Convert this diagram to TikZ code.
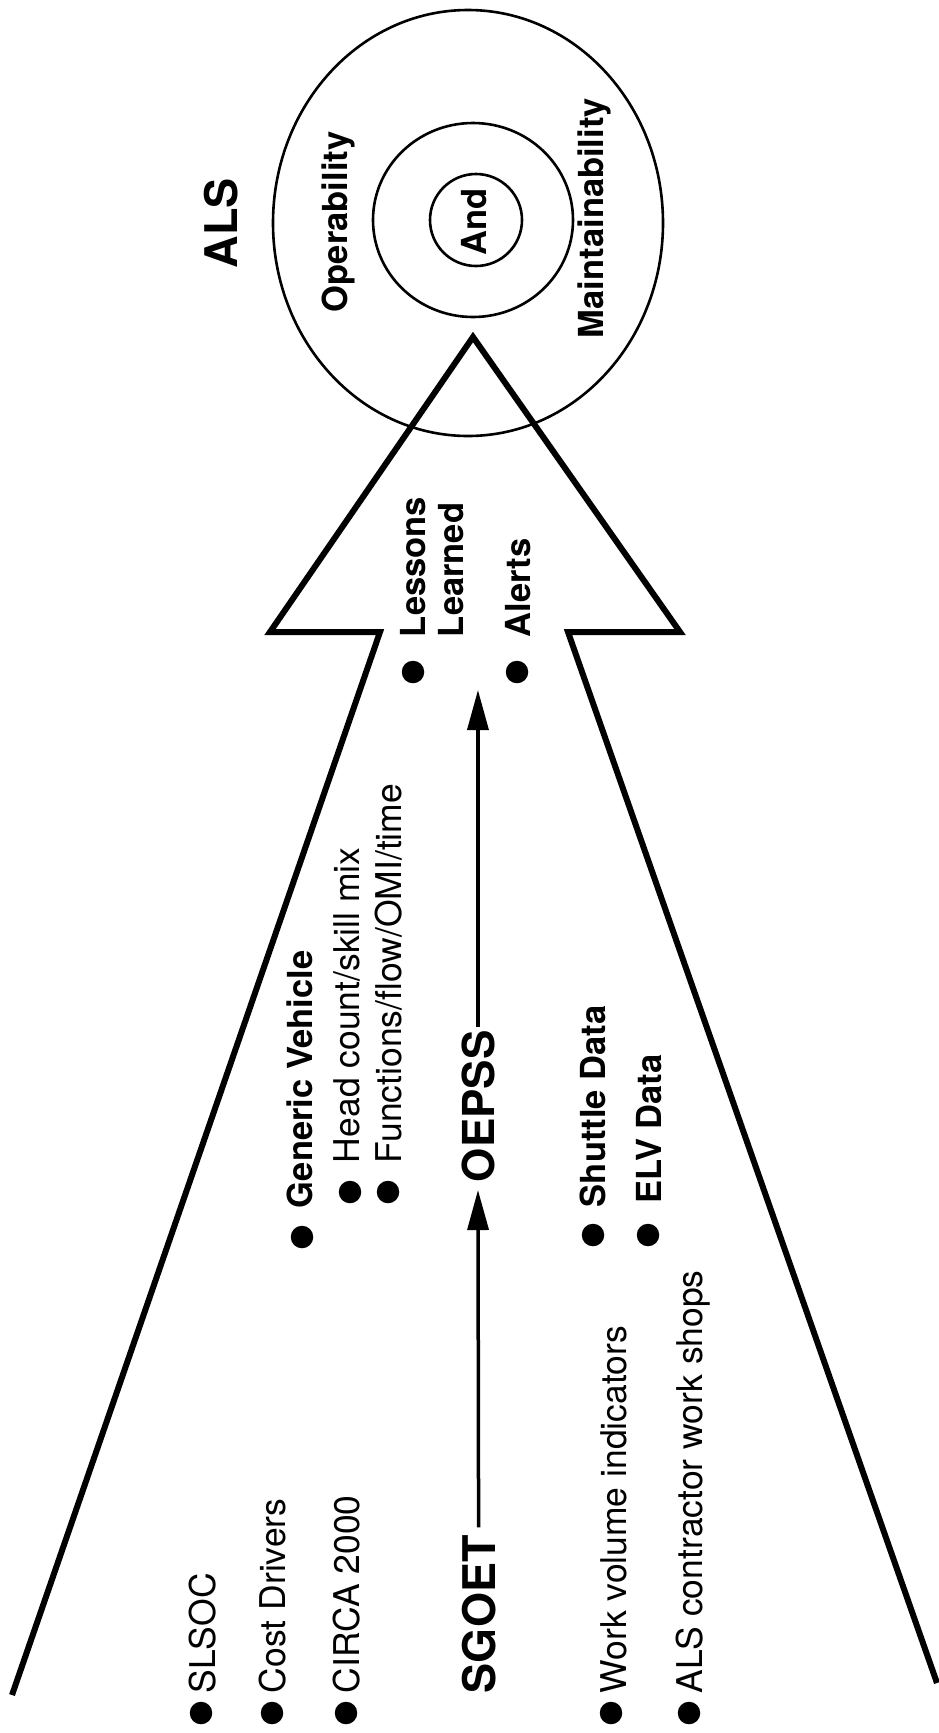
\documentclass[tikz,border=0pt]{standalone}
\usepackage{fontspec}
\setmainfont{TeX Gyre Heros}
\usetikzlibrary{arrows.meta,shapes.geometric}
\begin{document}
\begin{tikzpicture}[x=1pt,y=-1pt,
  lbl/.style={inner sep=0pt, outer sep=0pt, rotate=90, anchor=base west, font=\fontsize{35.5}{38}\selectfont},
  blbl/.style={lbl, font=\fontsize{34.5}{38}\selectfont\bfseries},
  big/.style={lbl, font=\fontsize{45}{48}\selectfont\bfseries},
  dot/.style={circle, fill=black, inner sep=0pt, minimum size=22.5pt},
  ring/.style={draw, line width=2.6pt, ellipse, inner sep=0pt},
  outline/.style={line width=6pt, line join=miter},
  conn/.style={line width=3.5pt, -{Triangle[length=40pt,width=21pt]}}
]
\useasboundingbox (0,0) rectangle (939,1733);
\fill[white] (0,0) rectangle (939,1733);

% ALS circles
\node[ring, minimum width=390pt, minimum height=426pt] (outer) at (468,223) {};
\node[ring, minimum width=200pt, minimum height=194pt] (middle) at (473,220) {};
\node[ring, circle, minimum size=92pt] (inner) at (476,220) {};
\node[inner sep=0pt, rotate=90, font=\fontsize{34.5}{38}\selectfont\bfseries] (and) at (474,222) {And};
\node[big] (als) at (237,268) {ALS};
\node[blbl] (oper) at (347,312) {Operability};
\node[blbl] (maint) at (603,338) {Maintainability};

% big arrow outline
\draw[outline] (12,1695) -- (380,632) -- (270,632) -- (473,337) -- (680,632) -- (568,632) -- (937,1683);

% top of arrow
\node[dot] (d1) at (413,672) {};
\node[blbl] (lessons) at (425,637) {Lessons};
\node[blbl] (learned) at (463,637) {Learned};
\node[dot] (d2) at (517,672) {};
\node[blbl] (alerts) at (530,637) {Alerts};

% middle block
\node[dot] (d3) at (302,1237) {};
\node[blbl] (generic) at (312,1208) {Generic Vehicle};
\node[dot] (d4) at (350,1192) {};
\node[lbl] (head) at (359,1163) {Head count/skill mix};
\node[dot] (d5) at (388,1192) {};
\node[lbl] (func) at (401,1163) {Functions/flow/OMI/time};
\node[big, font=\fontsize{44}{48}\selectfont\bfseries] (oepss) at (494,1182) {OEPSS};
\node[dot] (d6) at (593,1235) {};
\node[blbl] (shuttle) at (605,1207) {Shuttle Data};
\node[dot] (d7) at (648,1235) {};
\node[blbl] (elv) at (661,1203) {ELV Data};

% bottom block
\node[dot] (d8) at (201,1713) {};
\node[lbl] (slsoc) at (215,1693) {SLSOC};
\node[dot] (d9) at (272,1713) {};
\node[lbl] (cost) at (285,1693) {Cost Drivers};
\node[dot] (d10) at (346,1713) {};
\node[lbl] (circa) at (359,1693) {CIRCA 2000};
\node[big] (sgoet) at (495,1693) {SGOET};
\node[dot] (d11) at (611,1713) {};
\node[lbl] (work) at (626,1693) {Work volume indicators};
\node[dot] (d12) at (689,1713) {};
\node[lbl] (alsc) at (702,1693) {ALS contractor work shops};

% connectors
\coordinate (toptip) at (oepss.east |- 0,690);
\draw[conn, shorten <=8pt, shorten >=8pt] (sgoet.east) -- (oepss.west);
\draw[conn, shorten <=3pt] (oepss.east) -- (toptip);
\end{tikzpicture}
\end{document}
